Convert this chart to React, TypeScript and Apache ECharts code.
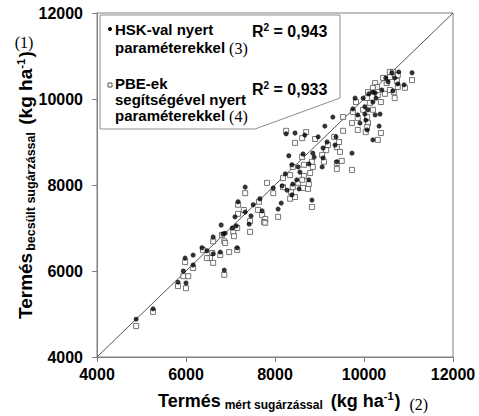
import React, { useEffect, useRef } from "react";
import * as echarts from "echarts";

const axisMin = 4000;
const axisMax = 12000;
const axisStep = 2000;
const identityLine: [number, number][] = [[4000, 4000], [12000, 12000]];

// HSK-val nyert paraméterekkel (filled dots): [mért, becsült]
const hskPoints: [number, number][] = [
  [4880, 4880], [5260, 5120], [5820, 5740], [5940, 6000], [6000, 5720], [5980, 6300], [6160, 6370], [6160, 6140],
  [6360, 6540], [6470, 6470], [6610, 6790], [6790, 7070], [6830, 6860], [6770, 6440], [6860, 6020], [7040, 7000],
  [7130, 7050], [7150, 6540], [7100, 7260], [7170, 7610], [6610, 6400], [6880, 6880],
  [7330, 7950], [7660, 7680], [7510, 7540], [7460, 7280], [7710, 7400], [7960, 7930], [8140, 7580], [8070, 7440],
  [8160, 7980], [8270, 7880], [8380, 7770], [8230, 8260], [8310, 8680], [8380, 8470], [8520, 8420], [8490, 8120],
  [8400, 8020], [8540, 7910], [7330, 7370], [7420, 7090], [8250, 9190], [8450, 9210],
  [8630, 8720], [8850, 8740], [8880, 8650], [8760, 8490], [8560, 8300], [8760, 8120], [8830, 7650], [8970, 9120],
  [9120, 9370], [9300, 9580], [9370, 9120], [9170, 9000], [9350, 8930], [9080, 8860], [9390, 8540], [9080, 8630],
  [9060, 8420], [8670, 9160], [9730, 8740],
  [10630, 10610], [10780, 10630], [11080, 10610], [10490, 10490], [10690, 10490], [10760, 10350], [10540, 10400],
  [10900, 10330], [10400, 10210], [10200, 10160], [10650, 10190], [10250, 10140], [10110, 10120], [9980, 10020],
  [9800, 10020], [10270, 10020], [10200, 9930], [9750, 9770], [10020, 9820], [10090, 9750], [10250, 9630],
  [10360, 9650], [10020, 9650], [9860, 9630], [10040, 9510], [10070, 9280], [10340, 9370], [10200, 9050], [9910, 9440]
];

// PBE-ek segítségével nyert paraméterekkel (open squares): [mért, becsült]
const pbePoints: [number, number][] = [
  [4880, 4720], [5260, 5050], [5820, 5650], [5940, 5880], [6050, 5880], [6000, 5600], [5980, 6210], [6160, 6070],
  [6380, 6490], [6590, 6420], [6540, 6300], [6470, 6300], [6610, 6190], [6610, 6690], [6810, 6840], [6860, 6690],
  [6970, 6440], [6860, 5910], [6770, 6370], [7060, 6910], [7080, 6810], [7150, 7000], [7150, 6490], [7170, 7540],
  [7170, 7330], [6880, 6650],
  [7330, 7810], [7640, 7610], [7440, 7160], [7710, 7300], [7780, 7210], [7750, 7140], [7820, 8050], [7960, 7810],
  [8180, 7950], [8360, 7840], [8340, 7680], [8450, 7720], [8070, 7260], [8340, 8230], [8180, 8160], [8400, 8420],
  [8520, 8050], [8400, 7950], [7300, 7420], [7620, 7420], [7440, 6910], [7780, 7120], [8250, 9260], [8450, 8980],
  [8610, 9090], [8700, 9230],
  [8650, 8470], [8850, 8420], [8650, 8210], [8790, 8280], [8760, 8020], [8630, 7930], [8740, 7910], [8830, 7490],
  [8900, 9070], [9330, 9120], [9440, 9000], [9190, 8930], [9390, 8880], [9460, 8770], [9150, 8810], [9060, 8700],
  [8610, 8650], [9390, 8510], [8830, 8540], [9100, 8540], [9390, 8370], [8610, 8120], [9500, 8560], [9530, 9260],
  [9730, 8350],
  [10580, 10630], [10650, 10630], [10760, 10560], [11080, 10440], [10430, 10490], [10580, 10510], [10740, 10420],
  [10760, 10280], [10510, 10370], [10920, 10260], [10250, 10370], [10290, 10280], [10200, 10260], [10580, 10210],
  [10670, 10160], [10690, 10020], [10470, 10120], [10310, 10090], [10090, 10160], [10070, 10020], [9820, 9930],
  [10380, 9930], [10130, 9910], [9750, 9700], [9980, 9750], [10200, 9750], [10070, 9580], [9530, 9580], [9730, 9440],
  [9860, 9560], [10090, 9440], [10070, 9350], [10040, 9230], [9860, 9280], [10380, 9210], [10310, 9050]
];

const hskLines = ["HSK-val nyert", "paraméterekkel"];
const pbeLines = ["PBE-ek", "segítségével nyert", "paraméterekkel"];
const r2Values = ["0,943", "0,933"];
const noteLabels = ["(1)", "(2)", "(3)", "(4)"];

const SANS = '"Liberation Sans", Arial, Helvetica, sans-serif';
const SERIF = '"Liberation Serif", "Times New Roman", serif';

type Piece = { text: string; size: number; bold?: boolean; serif?: boolean; rise?: number; at?: number; gap?: number };

function makeMeasurer() {
  const c = document.createElement("canvas").getContext("2d");
  return (text: string, size: number, weight: string, family: string) => {
    if (!c) return text.length * size * 0.55;
    c.font = `${weight} ${size}px ${family}`;
    return c.measureText(text).width;
  };
}

function layout(pieces: Piece[], startX: number, baseline: number, measure: ReturnType<typeof makeMeasurer>) {
  let x = startX;
  return pieces.map((p) => {
    if (p.at !== undefined) x = p.at;
    x += p.gap || 0;
    const family = p.serif ? SERIF : SANS;
    const weight = p.bold ? "bold" : "normal";
    const el = {
      type: "text",
      x,
      y: baseline - (p.rise || 0) - 0.35 * p.size,
      style: {
        text: p.text,
        fontSize: p.size,
        fontWeight: weight,
        fontFamily: family,
        fill: "#000",
        align: "left",
        verticalAlign: "middle",
      },
      z: 20,
    };
    x += measure(p.text, p.size, weight, family);
    return el;
  });
}

export default function App() {
  const ref = useRef<HTMLDivElement>(null);
  useEffect(() => {
    document.body.style.margin = "0";
    if (!ref.current) return;
    const chart = echarts.init(ref.current, undefined, { renderer: "svg" });
    const measure = makeMeasurer();

    const legendTexts = [
      ...layout([{ text: hskLines[0], size: 15, bold: true }], 115, 35, measure),
      ...layout([{ text: hskLines[1], size: 15, bold: true }, { text: noteLabels[2], size: 16, serif: true, gap: 4, rise: -1 }], 115, 53, measure),
      ...layout([{ text: pbeLines[0], size: 15, bold: true }], 115, 89, measure),
      ...layout([{ text: pbeLines[1], size: 15, bold: true }], 115, 105, measure),
      ...layout([{ text: pbeLines[2], size: 15, bold: true }, { text: noteLabels[3], size: 16, serif: true, gap: 4, rise: -1 }], 115, 121, measure),
      ...layout([{ text: "R", size: 16, bold: true }, { text: "2", size: 10, bold: true, rise: 6 }, { text: " = " + r2Values[0], size: 16, bold: true }], 252, 37, measure),
      ...layout([{ text: "R", size: 16, bold: true }, { text: "2", size: 10, bold: true, rise: 6 }, { text: " = " + r2Values[1], size: 16, bold: true }], 252, 95, measure),
    ];

    const xTitle = layout(
      [
        { text: "Termés", size: 18, bold: true },
        { text: "mért sugárzással", size: 12, bold: true, gap: 4, rise: -2 },
        { text: " (kg ha", size: 18, bold: true, gap: 3 },
        { text: "-1", size: 11, bold: true, rise: 7 },
        { text: ")", size: 18, bold: true, gap: 1 },
        { text: noteLabels[1], size: 16, serif: true, gap: 9, rise: -3 },
      ],
      158,
      407,
      measure
    );

    const yTitleChildren = layout(
      [
        { text: "Termés", size: 19, bold: true },
        { text: "becsült sugárzással", size: 12.5, bold: true, gap: 2, rise: -3 },
        { text: " (kg ha", size: 19, bold: true, gap: 2 },
        { text: "-1", size: 11.5, bold: true, rise: 7 },
        { text: ")", size: 19, bold: true, gap: 1 },
      ],
      0,
      0,
      measure
    );

    const plainNumber = (v: number) => String(v);

    chart.setOption({
      animation: false,
      backgroundColor: "#fff",
      grid: { left: 97, right: 26, top: 13, bottom: 59, show: true, borderColor: "#808080", borderWidth: 1 },
      xAxis: {
        type: "value",
        min: axisMin,
        max: axisMax,
        interval: axisStep,
        axisLine: { show: true, lineStyle: { color: "#808080", width: 1 } },
        axisTick: { show: true, length: 5, lineStyle: { color: "#808080" } },
        axisLabel: { fontSize: 16, fontWeight: "bold", color: "#000", fontFamily: SANS, margin: 9, formatter: plainNumber },
        splitLine: { show: false },
      },
      yAxis: {
        type: "value",
        min: axisMin,
        max: axisMax,
        interval: axisStep,
        axisLine: { show: true, lineStyle: { color: "#808080", width: 1 } },
        axisTick: { show: true, length: 5, lineStyle: { color: "#808080" } },
        axisLabel: { fontSize: 16, fontWeight: "bold", color: "#000", fontFamily: SANS, margin: 14, formatter: plainNumber },
        splitLine: { show: false },
      },
      series: [
        {
          type: "line",
          data: identityLine,
          symbol: "none",
          silent: true,
          lineStyle: { color: "#555", width: 1 },
          z: 1,
        },
        {
          name: "PBE",
          type: "scatter",
          data: pbePoints,
          symbol: "rect",
          symbolSize: 5,
          itemStyle: { color: "#fff", borderColor: "#555", borderWidth: 1 },
          z: 2,
        },
        {
          name: "HSK",
          type: "scatter",
          data: hskPoints,
          symbol: "circle",
          symbolSize: 5,
          itemStyle: { color: "#000" },
          z: 3,
        },
      ],
      graphic: {
        elements: [
          {
            type: "polygon",
            shape: { points: [[100, 15], [340, 15], [340, 98], [255, 129], [100, 129]] },
            style: { fill: "#fff", stroke: "#8c8c8c", lineWidth: 1 },
            z: 10,
          },
          { type: "circle", shape: { cx: 110, cy: 29, r: 2 }, style: { fill: "#000" }, z: 20 },
          { type: "rect", shape: { x: 108, y: 83, width: 4, height: 4 }, style: { fill: "#fff", stroke: "#555", lineWidth: 1 }, z: 20 },
          ...legendTexts,
          ...xTitle,
          { type: "group", x: 32, y: 319, rotation: Math.PI / 2, children: yTitleChildren },
          {
            type: "text",
            x: 24,
            y: 42,
            style: { text: noteLabels[0], fontSize: 16, fontFamily: SERIF, fill: "#000", align: "center", verticalAlign: "middle" },
          },
        ],
      },
    });
    return () => chart.dispose();
  }, []);
  return <div ref={ref} style={{ width: 479, height: 416 }} />;
}
